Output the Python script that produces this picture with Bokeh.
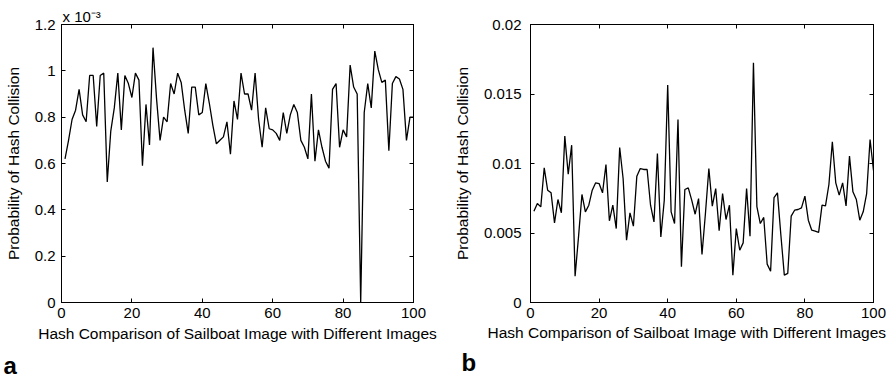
from bokeh.plotting import figure
from bokeh.layouts import row
from bokeh.models import Range1d, LinearAxis, FixedTicker, CustomJSTickFormatter, Title
from bokeh.embed import file_html
from bokeh.resources import INLINE

# ---------------- data ----------------
image_index = list(range(1, 101))

# panel a: probability of hash collision, in units of 1e-3
collision_a_e3 = [
    0.62, 0.70, 0.79, 0.83, 0.92, 0.81, 0.78, 0.98, 0.98, 0.76,
    0.98, 0.99, 0.52, 0.74, 0.84, 0.99, 0.745, 0.98, 0.945, 0.885,
    0.99, 0.96, 0.59, 0.855, 0.68, 1.10, 0.88, 0.70, 0.80, 0.78,
    0.945, 0.90, 0.99, 0.95, 0.83, 0.73, 0.93, 0.93, 0.81, 0.82,
    0.945, 0.86, 0.765, 0.685, 0.70, 0.715, 0.78, 0.64, 0.87, 0.79,
    0.99, 0.90, 0.90, 0.83, 0.99, 0.79, 0.67, 0.84, 0.75, 0.745,
    0.73, 0.70, 0.82, 0.73, 0.81, 0.855, 0.82, 0.70, 0.67, 0.62,
    0.90, 0.61, 0.745, 0.67, 0.61, 0.58, 0.92, 0.945, 0.67, 0.745,
    0.715, 1.025, 0.93, 0.90, 0.0, 0.82, 0.945, 0.84, 1.085, 1.005,
    0.95, 0.96, 0.655, 0.945, 0.975, 0.965, 0.92, 0.70, 0.80, 0.80,
]

# panel b: probability of hash collision, in units of 1e-3
collision_b_e3 = [
    6.57, 7.12, 6.88, 9.69, 8.08, 7.89, 5.73, 7.41, 6.45, 11.97,
    9.23, 11.32, 1.89, 4.72, 7.77, 6.52, 7.00, 8.08, 8.61, 8.56,
    7.89, 9.93, 5.88, 7.00, 5.32, 11.15, 8.92, 4.48, 6.45, 5.49,
    9.09, 9.64, 9.57, 9.57, 7.00, 5.80, 10.72, 4.72, 7.36, 15.64,
    6.52, 5.68, 13.17, 2.57, 8.13, 8.25, 7.36, 6.35, 7.48, 3.45,
    6.40, 9.64, 6.93, 8.20, 5.16, 7.84, 5.97, 7.00, 1.97, 5.32,
    3.76, 4.29, 8.20, 4.77, 17.24, 6.90, 5.68, 6.12, 2.76, 2.25,
    7.55, 7.89, 4.84, 1.97, 2.09, 6.21, 6.64, 6.69, 6.81, 7.65,
    5.92, 5.20, 5.13, 5.04, 7.00, 6.95, 8.49, 11.56, 8.61, 7.72,
    8.61, 6.95, 10.53, 7.96, 7.41, 5.92, 6.52, 7.84, 11.73, 9.50,
]
collision_b = [v * 1e-3 for v in collision_b_e3]

x_ticks = [0, 20, 40, 60, 80, 100]
y_ticks_a = [0, 0.2, 0.4, 0.6, 0.8, 1.0, 1.2]
y_ticks_b = [0, 0.005, 0.01, 0.015, 0.02]

x_label = "Hash Comparison of Sailboat Image with Different Images"
y_label = "Probability of Hash Collision"
scale_note = "x 10\u207b\u00b3"
panel_a = "a"
panel_b = "b"

FONT = "Liberation Sans"
fmt = CustomJSTickFormatter(code="return String(Math.round(tick*100000)/100000);")


def mirror_axis(ticks):
    return LinearAxis(ticker=FixedTicker(ticks=ticks), major_label_text_font_size="1px",
                      major_label_text_color=None, major_tick_in=4, major_tick_out=0,
                      minor_tick_in=0, minor_tick_out=0, major_label_standoff=0,
                      axis_line_color="black")


def style(p, yticks, ylabel_standoff, ytick_standoff, with_xlabel):
    p.xgrid.visible = False
    p.ygrid.visible = False
    p.outline_line_color = "black"
    p.outline_line_width = 1
    for ax, ticks in ((p.xaxis[0], x_ticks), (p.yaxis[0], yticks)):
        ax.ticker = FixedTicker(ticks=ticks)
        ax.formatter = fmt
        ax.major_tick_in = 4
        ax.major_tick_out = 0
        ax.minor_tick_in = 0
        ax.minor_tick_out = 0
        ax.axis_line_color = "black"
        ax.major_tick_line_color = "black"
        ax.major_label_text_font = FONT
        ax.major_label_text_font_size = "15px"
        ax.major_label_text_color = "black"
        ax.axis_label_text_font = FONT
        ax.axis_label_text_font_size = "15.5px"
        ax.axis_label_text_font_style = "normal"
        ax.axis_label_text_color = "black"
    if with_xlabel:
        p.xaxis[0].axis_label = x_label
    p.yaxis[0].axis_label = y_label
    p.xaxis[0].major_label_standoff = 5
    p.xaxis[0].axis_label_standoff = 4
    p.yaxis[0].major_label_standoff = ytick_standoff
    p.yaxis[0].axis_label_standoff = ylabel_standoff
    p.add_layout(mirror_axis(x_ticks), "above")
    p.add_layout(mirror_axis(yticks), "right")


def panel_title(p, text, offset):
    p.add_layout(Title(text=text, align="left", offset=offset, text_font=FONT,
                       text_font_size="24px", text_font_style="bold", text_color="black",
                       standoff=10), "below")


# ---------------- panel a ----------------
p1 = figure(width=450, height=384, x_range=Range1d(0, 100), y_range=Range1d(0, 1.2),
            output_backend="svg", toolbar_location=None,
            min_border_left=61, min_border_right=37, min_border_top=24, min_border_bottom=82,
            background_fill_color="white", border_fill_color="white")
p1.line(image_index, collision_a_e3, line_color="black", line_width=1.3)
style(p1, y_ticks_a, 10, 6, True)
p1.title.text = scale_note
p1.title.align = "left"
p1.title.offset = 1
p1.title.text_font = FONT
p1.title.text_font_size = "15px"
p1.title.text_font_style = "normal"
p1.title.text_color = "black"
p1.title.standoff = 0
panel_title(p1, panel_a, -58)

# ---------------- panel b ----------------
p2 = figure(width=441, height=384, x_range=Range1d(0, 100), y_range=Range1d(0, 0.02),
            output_backend="svg", toolbar_location=None,
            min_border_left=76, min_border_right=18, min_border_top=24, min_border_bottom=82,
            background_fill_color="white", border_fill_color="white")
p2.line(image_index, collision_b, line_color="black", line_width=1.3)
style(p2, y_ticks_b, 10, 9, False)
p2.add_layout(Title(text=x_label, align="left", offset=-43, text_font=FONT,
                    text_font_size="15.5px", text_font_style="normal", text_color="black",
                    standoff=2), "below")
panel_title(p2, panel_b, -69)

layout = row(p1, p2, spacing=0)
open("out.html", "w").write(file_html(layout, INLINE))
